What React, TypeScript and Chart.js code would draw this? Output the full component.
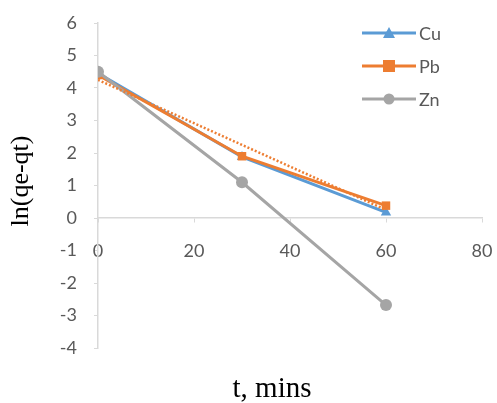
import React, { useEffect, useRef } from "react";
import { Chart, registerables } from "chart.js";

Chart.register(...registerables);

// Sampling times (min) and ln(qe - qt) for each metal
const times = [0, 30, 60];
const cuValues = [4.45, 1.88, 0.17];
const pbValues = [4.4, 1.9, 0.38];
const znValues = [4.5, 1.1, -2.68];

// Linear trend drawn through the Pb series
const pbTrendTimes = [0, 60];
const pbTrendValues = [4.25, 0.25];

const xTicks = [0, 20, 40, 60, 80];
const yTicks = [-4, -3, -2, -1, 0, 1, 2, 3, 4, 5, 6];

const seriesNames = ["Cu", "Pb", "Zn"];
const seriesColors = ["#5B9BD5", "#ED7D31", "#A5A5A5"];
const seriesMarkers = ["triangle", "rect", "circle"];

const tickFont = { family: "Lato, 'Open Sans', sans-serif", size: 18 };
const tickColor = "#595959";
const axisColor = "#D9D9D9";

const toPoints = (xs: number[], ys: number[]) => xs.map((x, i) => ({ x, y: ys[i] }));

// Keep tick-label overhang from shrinking the plot area
const clearScalePadding = (scale: any) => {
  scale.paddingLeft = 0;
  scale.paddingRight = 0;
  scale.paddingTop = 0;
  scale.paddingBottom = 0;
};

const legendAndTitles = {
  id: "legendAndTitles",
  afterDraw(chart: any) {
    const ctx = chart.ctx as CanvasRenderingContext2D;
    ctx.save();

    // Legend: short line with marker, then label
    const rowY = [33, 66, 99];
    seriesNames.forEach((name, i) => {
      const y = rowY[i];
      ctx.strokeStyle = seriesColors[i];
      ctx.lineWidth = 3;
      ctx.beginPath();
      ctx.moveTo(362, y);
      ctx.lineTo(416, y);
      ctx.stroke();
      ctx.fillStyle = seriesColors[i];
      ctx.beginPath();
      const mx = 389;
      if (seriesMarkers[i] === "triangle") {
        ctx.moveTo(mx, y - 6);
        ctx.lineTo(mx + 6, y + 5);
        ctx.lineTo(mx - 6, y + 5);
        ctx.closePath();
      } else if (seriesMarkers[i] === "rect") {
        ctx.rect(mx - 6, y - 6, 12, 12);
      } else {
        ctx.arc(mx, y, 5.5, 0, Math.PI * 2);
      }
      ctx.fill();
      ctx.fillStyle = tickColor;
      ctx.font = `${tickFont.size}px ${tickFont.family}`;
      ctx.textAlign = "left";
      ctx.textBaseline = "middle";
      ctx.fillText(name, 419, y + 1);
    });

    // Axis titles
    ctx.fillStyle = "#000000";
    ctx.font = "29px 'Liberation Serif', 'Times New Roman', serif";
    ctx.textAlign = "center";
    ctx.textBaseline = "alphabetic";
    ctx.fillText("t, mins", 272, 397);

    ctx.translate(28, 181);
    ctx.rotate(-Math.PI / 2);
    ctx.font = "26px 'Liberation Serif', 'Times New Roman', serif";
    ctx.textBaseline = "alphabetic";
    ctx.fillText("ln(qe-qt)", 0, 0);

    ctx.restore();
  },
};

export default function App() {
  const canvasRef = useRef<HTMLCanvasElement | null>(null);

  useEffect(() => {
    if (!canvasRef.current) return;
    const chart = new Chart(canvasRef.current, {
      type: "scatter",
      data: {
        datasets: [
          {
            label: "Pb trend",
            data: toPoints(pbTrendTimes, pbTrendValues),
            showLine: true,
            borderColor: seriesColors[1],
            borderWidth: 2.5,
            borderDash: [2, 2],
            pointRadius: 0,
            order: -1,
          },
          {
            label: seriesNames[0],
            data: toPoints(times, cuValues),
            showLine: true,
            borderColor: seriesColors[0],
            backgroundColor: seriesColors[0],
            borderWidth: 3,
            pointStyle: "triangle",
            pointRadius: 6,
            pointBorderWidth: 0,
            order: 3,
          },
          {
            label: seriesNames[1],
            data: toPoints(times, pbValues),
            showLine: true,
            borderColor: seriesColors[1],
            backgroundColor: seriesColors[1],
            borderWidth: 3,
            pointStyle: "rect",
            pointRadius: 6,
            pointBorderWidth: 0,
            order: 2,
          },
          {
            label: seriesNames[2],
            data: toPoints(times, znValues),
            showLine: true,
            borderColor: seriesColors[2],
            backgroundColor: seriesColors[2],
            borderWidth: 3,
            pointStyle: "circle",
            pointRadius: 6,
            pointBorderWidth: 0,
            order: 1,
          },
        ],
      },
      options: {
        animation: false,
        responsive: false,
        maintainAspectRatio: false,
        layout: { padding: { left: 8, right: 15, top: 23, bottom: 55 } },
        plugins: {
          legend: { display: false },
          tooltip: { enabled: false },
        },
        scales: {
          x: {
            type: "linear",
            position: { y: 0 },
            min: 0,
            max: 80,
            afterBuildTicks: (scale: any) => {
              scale.ticks = xTicks.map((v) => ({ value: v }));
            },
            afterFit: clearScalePadding,
            grid: {
              drawOnChartArea: false,
              drawTicks: true,
              tickLength: 4,
              color: axisColor,
            },
            border: { color: axisColor, width: 1.5 },
            ticks: { font: tickFont, color: tickColor, padding: 18, maxRotation: 0 },
          },
          y: {
            type: "linear",
            position: "left",
            min: -4,
            max: 6,
            afterBuildTicks: (scale: any) => {
              scale.ticks = yTicks.map((v) => ({ value: v }));
            },
            afterFit: (scale: any) => {
              clearScalePadding(scale);
              scale.width = 90;
            },
            grid: {
              drawOnChartArea: false,
              drawTicks: true,
              tickLength: 4,
              color: axisColor,
            },
            border: { color: axisColor, width: 1.5 },
            ticks: { font: tickFont, color: tickColor, padding: 17 },
          },
        },
      },
      plugins: [legendAndTitles],
    } as any);
    return () => chart.destroy();
  }, []);

  return (
    <div style={{ position: "fixed", left: 0, top: 0, width: 497, height: 403, background: "#fff" }}>
      <canvas ref={canvasRef} width={497} height={403} style={{ display: "block" }} />
    </div>
  );
}
